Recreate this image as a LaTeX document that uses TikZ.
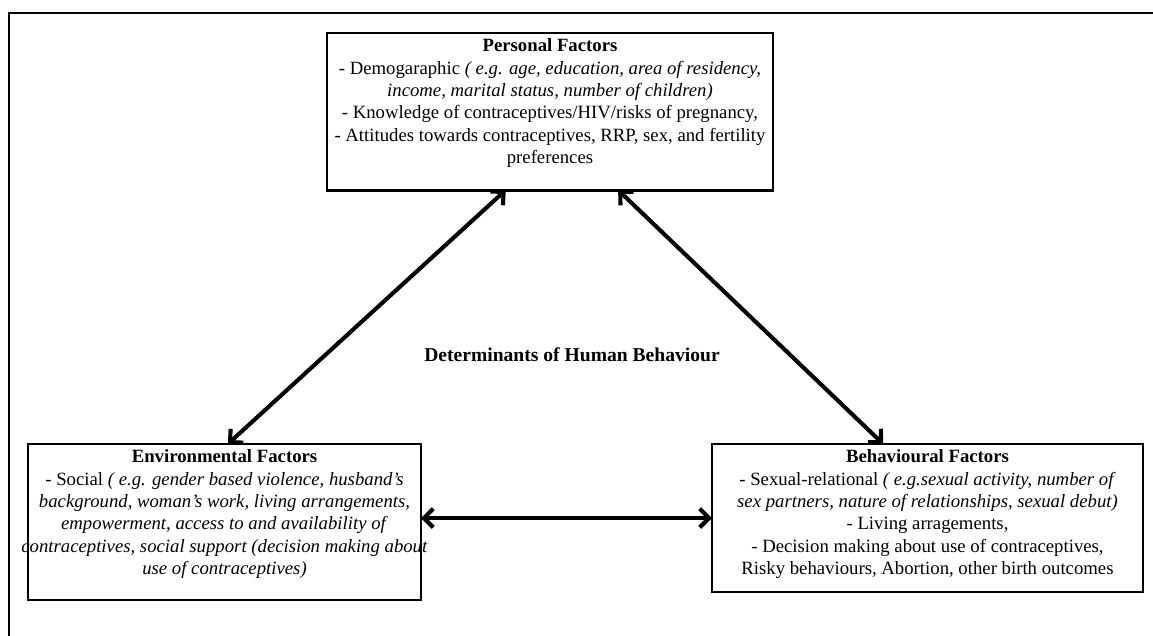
\documentclass[tikz,border=0pt]{standalone}
\usepackage{fontspec}
\setmainfont{Liberation Serif}
\usetikzlibrary{arrows.meta, positioning}

\begin{document}
\begin{tikzpicture}[x=0.587pt, y=-0.587pt,
    factor/.style={draw, line width=1.7pt, anchor=north west, inner xsep=0pt, inner ysep=3.5pt,
      outer sep=0pt, font=\fontsize{11}{13.1}\selectfont},
    link/.style={{Straight Barb[length=5.5pt,width=11pt]}-{Straight Barb[length=5.5pt,width=11pt]}, line width=2.4pt},
    frame/.style={line width=1.2pt}]
            \useasboundingbox (0,0) rectangle (1153,636);
            \draw[frame] (1153,13) -- (9,13) -- (9,636);

            \node[factor] (pers) at (327,33) {\parbox[t][85.2pt][t]{261.8pt}{\centering
                \textbf{Personal Factors}\\
                - Demogaraphic \textit{( e.g. age, education, area of residency,}\\
                \textit{income, marital status, number of children)}\\
                - Knowledge of contraceptives/HIV/risks of pregnancy,\\
                \makebox[\linewidth]{- Attitudes towards contraceptives, RRP, sex, and fertility}\\
                preferences}};

            \node[factor] (env) at (28,444) {\parbox[t][84.6pt][t]{230.7pt}{\centering
                \textbf{Environmental Factors}\\
                - Social \textit{( e.g. gender based violence, husband’s}\\
                \textit{background, woman’s work, living arrangements,}\\
                \textit{empowerment, access to and availability of}\\
                \makebox[\linewidth]{\textit{contraceptives, social support (decision making about}}\\
                \textit{use of contraceptives)}}};

            \node[factor] (beh) at (712,444) {\parbox[t][79.9pt][t]{253pt}{\centering
                \textbf{Behavioural Factors}\\
                - Sexual-relational \textit{( e.g.sexual activity, number of}\\
                \textit{sex partners, nature of relationships, sexual debut)}\\
                - Living arragements,\\
                - Decision making about use of contraceptives,\\
                Risky behaviours, Abortion, other birth outcomes}};

            \node[font=\bfseries\fontsize{11.5}{13}\selectfont] (theme) at (572,355) {Determinants of Human Behaviour};

            % two-way links between the three groups of factors
            \draw[link] ([xshift=-26pt]pers.south) -- ([xshift=2pt]env.north);
            \draw[link] ([xshift=40pt]pers.south) -- ([xshift=-26pt]beh.north);
            \draw[link] (beh.west -| env.east) -- (beh.west);
        \end{tikzpicture}
\end{document}
